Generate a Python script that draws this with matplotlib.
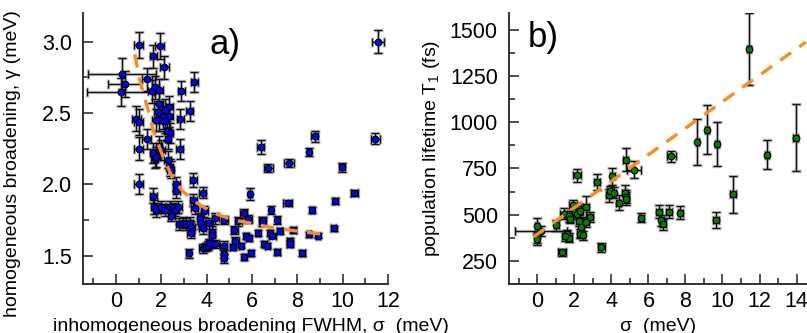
import numpy as np
import matplotlib
matplotlib.use('Agg')
import matplotlib.pyplot as plt

plt.rcParams['font.family'] = ['Liberation Sans', 'DejaVu Sans']
plt.rcParams['mathtext.fontset'] = 'custom'
plt.rcParams['mathtext.rm'] = 'Liberation Sans'
plt.rcParams['mathtext.it'] = 'Liberation Sans'

# panel a) sigma (meV), gamma (meV) and their error bars
sigma_a = [1.01, 1.94, 1.65, 2.13, 0.25, 0.38, 0.21, 1.37, 1.74, 1.58,
           1.92, 2.89, 3.45, 3.26, 2.84, 1.89, 2.36, 2.18, 1.84, 2.35,
           2.06, 1.92, 2.18, 0.89, 1.01, 1.75, 2.27, 2.38, 2.30, 1.35,
           1.01, 2.82, 1.90, 2.00, 1.64, 1.71, 2.29, 2.37, 2.41, 1.78,
           1.01, 2.66, 2.66, 3.42, 3.83, 3.42, 3.48, 1.64, 1.68, 1.78,
           2.00, 2.18, 2.37, 2.51, 2.59, 2.73, 2.44, 2.78, 2.95, 3.10,
           3.25, 3.32, 3.29, 3.21, 3.71, 3.76, 3.83, 3.90, 4.12, 4.24,
           4.24, 4.39, 3.83, 3.95, 4.05, 4.12, 4.39, 4.75, 4.75, 4.75,
           4.78, 5.22, 5.26, 5.40, 6.39, 6.72, 7.63, 8.76, 8.51, 11.43,
           11.55, 9.97, 10.51, 9.68, 9.60, 5.91, 7.57, 6.84, 8.64, 5.64,
           5.83, 6.43, 6.50, 7.12, 7.82, 6.26, 6.80, 6.90, 7.22, 8.51,
           8.92, 5.73, 5.85, 5.15, 5.51, 5.64, 5.95, 6.54, 6.68, 7.66,
           7.66, 7.12, 8.22]
gamma_a = [2.977, 2.967, 2.895, 2.82, 2.774, 2.70, 2.645, 2.734, 2.68, 2.65,
           2.66, 2.653, 2.715, 2.51, 2.46, 2.56, 2.54, 2.518, 2.506, 2.48,
           2.47, 2.45, 2.44, 2.46, 2.436, 2.45, 2.37, 2.36, 2.32, 2.32,
           2.25, 2.25, 2.27, 2.24, 2.22, 2.18, 2.17, 2.12, 2.10, 2.19,
           2.00, 2.00, 1.95, 2.03, 1.94, 1.89, 1.83, 1.92, 1.84, 1.82,
           1.84, 1.82, 1.84, 1.83, 1.82, 1.84, 1.78, 1.72, 1.73, 1.72,
           1.73, 1.70, 1.66, 1.515, 1.76, 1.725, 1.69, 1.81, 1.725, 1.667,
           1.645, 1.76, 1.55, 1.56, 1.57, 1.585, 1.58, 1.57, 1.51, 1.48,
           1.75, 1.68, 1.60, 1.74, 2.26, 2.114, 2.15, 2.335, 2.226, 2.32,
           3.00, 2.117, 1.94, 1.88, 1.69, 1.93, 1.87, 1.82, 1.82, 1.795,
           1.757, 1.74, 1.74, 1.75, 1.68, 1.66, 1.66, 1.64, 1.67, 1.648,
           1.64, 1.636, 1.625, 1.56, 1.57, 1.49, 1.516, 1.58, 1.57, 1.60,
           1.58, 1.527, 1.516]
sigma_a_err = [0.2, 0.2, 0.15, 0.2, 1.5, 0.72, 1.48, 0.2, 0.15, 0.15,
               0.15, 0.15, 0.15, 0.15, 0.15, 0.2, 0.15, 0.15, 0.15, 0.15,
               0.15, 0.15, 0.15, 0.2, 0.2, 0.15, 0.15, 0.15, 0.15, 0.2,
               0.2, 0.15, 0.15, 0.15, 0.15, 0.15, 0.15, 0.15, 0.15, 0.15,
               0.2, 0.15, 0.15, 0.15, 0.15, 0.15, 0.15, 0.15, 0.15, 0.15,
               0.2, 0.2, 0.2, 0.2, 0.2, 0.2, 0.15, 0.15, 0.15, 0.15,
               0.15, 0.15, 0.15, 0.1, 0.15, 0.15, 0.15, 0.15, 0.15, 0.15,
               0.15, 0.15, 0.15, 0.15, 0.15, 0.15, 0.15, 0.15, 0.1, 0.1,
               0.15, 0.15, 0.15, 0.15, 0.15, 0.2, 0.2, 0.15, 0.1, 0.2,
               0.25, 0.15, 0.15, 0.1, 0.1, 0.1, 0.2, 0.1, 0.1, 0.15,
               0.15, 0.1, 0.1, 0.1, 0.1, 0.1, 0.1, 0.15, 0.1, 0.1,
               0.1, 0.1, 0.1, 0.1, 0.1, 0.1, 0.1, 0.1, 0.1, 0.1,
               0.1, 0.1, 0.1]
gamma_a_err = [0.09, 0.09, 0.08, 0.08, 0.11, 0.09, 0.10, 0.08, 0.08, 0.08,
               0.08, 0.07, 0.07, 0.07, 0.07, 0.08, 0.08, 0.08, 0.08, 0.08,
               0.08, 0.08, 0.08, 0.09, 0.09, 0.08, 0.07, 0.07, 0.07, 0.07,
               0.08, 0.07, 0.07, 0.07, 0.07, 0.07, 0.06, 0.06, 0.06, 0.07,
               0.07, 0.05, 0.05, 0.05, 0.04, 0.04, 0.04, 0.05, 0.05, 0.05,
               0.04, 0.04, 0.04, 0.04, 0.04, 0.04, 0.04, 0.04, 0.04, 0.04,
               0.04, 0.04, 0.04, 0.03, 0.04, 0.04, 0.04, 0.04, 0.04, 0.04,
               0.04, 0.04, 0.03, 0.03, 0.03, 0.03, 0.03, 0.03, 0.03, 0.03,
               0.03, 0.03, 0.03, 0.03, 0.05, 0.03, 0.03, 0.04, 0.03, 0.04,
               0.08, 0.03, 0.02, 0.02, 0.02, 0.04, 0.02, 0.03, 0.02, 0.03,
               0.03, 0.03, 0.03, 0.03, 0.02, 0.02, 0.02, 0.02, 0.02, 0.02,
               0.02, 0.02, 0.02, 0.02, 0.02, 0.02, 0.02, 0.02, 0.02, 0.02,
               0.02, 0.02, 0.02]
# dashed fit curve of panel a)
fit_a_x = [0.83, 1.05, 1.35, 1.64, 2.08, 2.51, 2.95, 3.46, 4.27, 5.15, 6.02, 7.05, 8.07, 9.1]
fit_a_y = [2.91, 2.73, 2.56, 2.38, 2.19, 2.04, 1.95, 1.88, 1.80, 1.75, 1.725, 1.69, 1.67, 1.65]

# panel b) sigma (meV), T1 (fs) and their error bars
sigma_b = [0.0, 0.0, 0.0, 0.19, 1.03, 1.33, 2.14, 1.60, 1.70, 1.51,
           1.42, 1.92, 1.69, 1.78, 2.05, 2.14, 2.23, 2.32, 2.23, 2.29,
           2.45, 2.38, 2.63, 2.86, 2.63, 3.22, 3.46, 3.85, 4.77, 5.22,
           4.05, 3.91, 4.12, 4.39, 4.72, 4.81, 4.81, 5.62, 6.56, 6.70,
           6.79, 7.10, 7.73, 7.24, 11.44, 8.65, 9.17, 9.71, 10.56, 12.41,
           13.95, 9.64]
t1_b = [440, 377, 366, 412, 443, 297, 713, 393, 376, 385,
        506, 551, 492, 479, 515, 506, 528, 519, 465, 398,
        389, 431, 542, 488, 461, 677, 323, 605, 798, 744,
        708, 627, 618, 564, 618, 596, 587, 483, 515, 470,
        449, 515, 510, 816, 1395, 891, 960, 881, 609, 825,
        917, 470]
sigma_b_err = [0.1, 0.1, 0.1, 1.4, 0.15, 0.2, 0.2, 0.15, 0.15, 0.15,
               0.2, 0.2, 0.15, 0.15, 0.15, 0.15, 0.15, 0.15, 0.15, 0.15,
               0.15, 0.15, 0.15, 0.15, 0.15, 0.15, 0.2, 0.15, 0.15, 0.4,
               0.15, 0.15, 0.15, 0.15, 0.15, 0.15, 0.15, 0.15, 0.15, 0.15,
               0.15, 0.15, 0.15, 0.25, 0.1, 0.1, 0.1, 0.1, 0.15, 0.1,
               0.15, 0.15]
t1_b_err = [43, 30, 30, 25, 30, 20, 35, 25, 25, 25,
            30, 30, 30, 25, 30, 30, 30, 30, 25, 25,
            25, 25, 60, 25, 25, 45, 25, 35, 60, 45,
            45, 30, 30, 40, 45, 35, 35, 25, 35, 30,
            30, 35, 35, 30, 194, 125, 134, 118, 101, 78,
            181, 42]
# dashed linear fit of panel b), end points
fit_b_x = [-0.2, 14.5]
fit_b_y = [380, 1433]

fig = plt.figure(figsize=(8.07, 3.33), dpi=100)
ax1 = fig.add_axes([0.1029, 0.147, 0.378, 0.814])
ax2 = fig.add_axes([0.6307, 0.147, 0.369, 0.814])


def draw_points(ax, x, y, xe, ye, face):
    # grey halo behind the black error bars, as in the original
    ax.errorbar(x, y, xerr=xe, yerr=ye, fmt='none', ecolor='#8a8a8a',
                elinewidth=2.4, capsize=3.6, capthick=2.4, alpha=0.55, zorder=2)
    ax.errorbar(x, y, xerr=xe, yerr=ye, fmt='none', ecolor='#111111',
                elinewidth=0.9, capsize=3.2, capthick=0.9, zorder=3)
    ax.plot(x, y, 'o', ms=4.8, mfc=face, mec='black', mew=0.8, zorder=4)


draw_points(ax1, sigma_a, gamma_a, sigma_a_err, gamma_a_err, '#0000ff')
ax1.plot(fit_a_x, fit_a_y, '--', color='#ff8c1a', lw=2.4, dashes=(4, 3), zorder=5)

draw_points(ax2, sigma_b, t1_b, sigma_b_err, t1_b_err, '#008000')
ax2.plot(fit_b_x, fit_b_y, '--', color='#ff8c1a', lw=2.4, dashes=(4, 3), zorder=5)

ax1.set_xlim(-1.45, 11.95)
ax1.set_ylim(1.30, 3.20)
ax1.set_xticks([0, 2, 4, 6, 8, 10, 12])
ax1.set_xticks(np.arange(-1, 12, 2), minor=True)
ax1.set_yticks([1.5, 2.0, 2.5, 3.0])
ax1.set_yticks([1.75, 2.25, 2.75], minor=True)

ax2.set_xlim(-1.53, 14.55)
ax2.set_ylim(125, 1590)
ax2.set_xticks([0, 2, 4, 6, 8, 10, 12, 14])
ax2.set_xticks(np.arange(-1, 15, 2), minor=True)
ax2.set_yticks([250, 500, 750, 1000, 1250, 1500])
ax2.set_yticks([375, 625, 875, 1125, 1375], minor=True)

for ax in (ax1, ax2):
    for s in ('top', 'right'):
        ax.spines[s].set_visible(False)
    for s in ('left', 'bottom'):
        ax.spines[s].set_linewidth(1.3)
        ax.spines[s].set_color('#222222')
    ax.tick_params(which='both', direction='in', colors='#222222', labelcolor='black')
    ax.tick_params(which='major', length=7, width=1.1, labelsize=15.5)
    ax.tick_params(which='minor', length=4, width=1.1)
    ax.tick_params(axis='x', pad=5)
    ax.tick_params(axis='y', pad=8)

ax1.yaxis.set_major_formatter(matplotlib.ticker.FormatStrFormatter('%.1f'))

ax1.set_ylabel('homogeneous broadening, γ (meV)', fontsize=14)
ax1.yaxis.set_label_coords(-0.205, 0.446)
ax1.set_xlabel('inhomogeneous broadening FWHM, σ  (meV)', fontsize=14)
ax1.xaxis.set_label_coords(0.55, -0.125)

ax2.set_ylabel('population lifetime T$_1$ (fs)', fontsize=14)
ax2.yaxis.set_label_coords(-0.225, 0.5)
ax2.set_xlabel('σ  (meV)', fontsize=14)
ax2.xaxis.set_label_coords(0.5, -0.125)

ax1.text(0.416, 0.885, 'a)', transform=ax1.transAxes, fontsize=25, va='center', ha='left')
ax2.text(0.063, 0.91, 'b)', transform=ax2.transAxes, fontsize=25, va='center', ha='left')

fig.savefig('out.png', dpi=100)
